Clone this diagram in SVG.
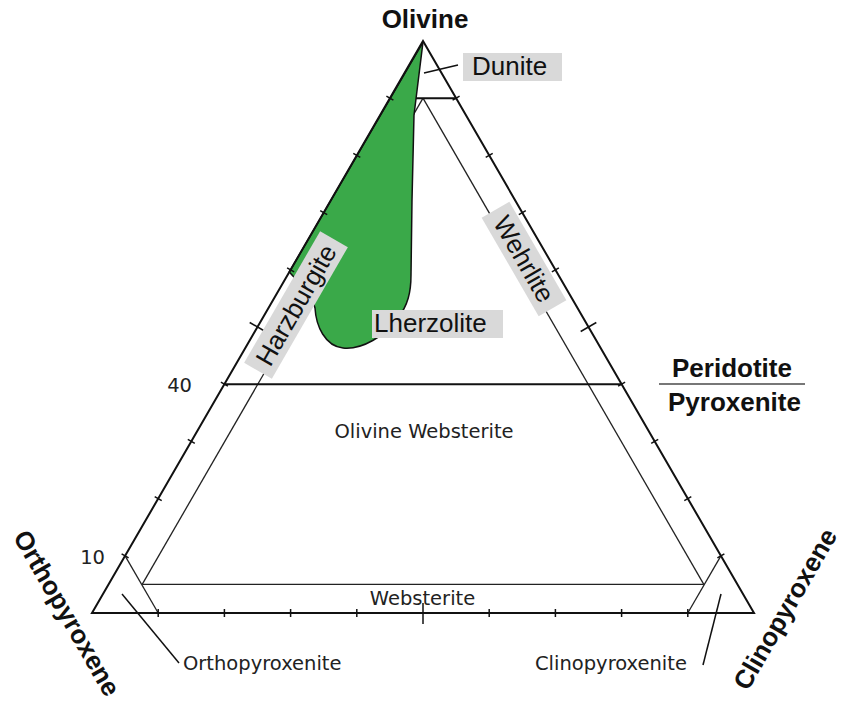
<svg xmlns="http://www.w3.org/2000/svg" width="842" height="702" viewBox="0 0 842 702">
<style>
.bold{font-family:"Liberation Sans",Arial,sans-serif;font-weight:bold;font-size:26px;fill:#111}
.lab{font-family:"Liberation Sans",Arial,sans-serif;font-size:26px;fill:#111}
.sm{font-family:"DejaVu Sans",sans-serif;font-size:19.5px;fill:#222}
.box{fill:#d9d9d9}
.edge{fill:none;stroke:#111;stroke-width:2}
.inner{fill:none;stroke:#222;stroke-width:1.3}
.tick{stroke:#111;stroke-width:1.5}
.lead{stroke:#111;stroke-width:1.5}
</style>
<rect width="842" height="702" fill="#fff"/>
<g id="connectors">
  <line class="inner" x1="142.2" y1="584.4" x2="423" y2="98.2"/>
  <line class="inner" x1="703.8" y1="584.4" x2="423" y2="98.2"/>
  <line class="inner" x1="142.2" y1="584.4" x2="703.8" y2="584.4" stroke="#444"/>
  <line class="inner" x1="125.1" y1="555.8" x2="158.2" y2="613"/>
  <line class="inner" x1="720.9" y1="555.8" x2="687.8" y2="613"/>
  <line class="edge" x1="224.4" y1="384.2" x2="621.6" y2="384.2" stroke="#333" stroke-width="1.8"/>
  <line class="edge" x1="389.9" y1="98.2" x2="456.1" y2="98.2"/>
</g>
<g id="lherzolite-field">
  <path d="M423,42 L289.3,272 C300,284 312,295 315,308 C316,326 325,346 343,348 C362,350 385,336 398,318 C408,305 411,292 411,275 L412,200 L414,115 Z" fill="#3aa949" stroke="#111" stroke-width="1.5" stroke-linejoin="round"/>
</g>
<g id="triangle">
  <polygon class="edge" points="423,41 92,613 754,613"/>
  <g id="ticks">
    <line class="tick" x1="121.6" y1="553.8" x2="128.6" y2="557.8"/>
    <line class="tick" x1="154.7" y1="496.6" x2="161.7" y2="500.6"/>
    <line class="tick" x1="187.8" y1="439.4" x2="194.8" y2="443.4"/>
    <line class="tick" x1="220.9" y1="382.2" x2="227.9" y2="386.2"/>
    <line class="tick" x1="249.7" y1="322.5" x2="265.3" y2="331.5"/>
    <line class="tick" x1="287.1" y1="267.8" x2="294.1" y2="271.8"/>
    <line class="tick" x1="320.2" y1="210.6" x2="327.2" y2="214.6"/>
    <line class="tick" x1="353.3" y1="153.4" x2="360.3" y2="157.4"/>
    <line class="tick" x1="386.4" y1="96.2" x2="393.4" y2="100.2"/>
    <line class="tick" x1="717.4" y1="557.8" x2="724.4" y2="553.8"/>
    <line class="tick" x1="684.3" y1="500.6" x2="691.3" y2="496.6"/>
    <line class="tick" x1="651.2" y1="443.4" x2="658.2" y2="439.4"/>
    <line class="tick" x1="618.1" y1="386.2" x2="625.1" y2="382.2"/>
    <line class="tick" x1="580.7" y1="331.5" x2="596.3" y2="322.5"/>
    <line class="tick" x1="551.9" y1="271.8" x2="558.9" y2="267.8"/>
    <line class="tick" x1="518.8" y1="214.6" x2="525.8" y2="210.6"/>
    <line class="tick" x1="485.7" y1="157.4" x2="492.7" y2="153.4"/>
    <line class="tick" x1="452.6" y1="100.2" x2="459.6" y2="96.2"/>
    <line class="tick" x1="158.2" y1="609" x2="158.2" y2="617"/>
    <line class="tick" x1="224.4" y1="609" x2="224.4" y2="617"/>
    <line class="tick" x1="290.6" y1="609" x2="290.6" y2="617"/>
    <line class="tick" x1="356.8" y1="609" x2="356.8" y2="617"/>
    <line class="tick" x1="423" y1="603" x2="423" y2="624" stroke-width="2"/>
    <line class="tick" x1="489.2" y1="609" x2="489.2" y2="617"/>
    <line class="tick" x1="555.4" y1="609" x2="555.4" y2="617"/>
    <line class="tick" x1="621.6" y1="609" x2="621.6" y2="617"/>
    <line class="tick" x1="687.8" y1="609" x2="687.8" y2="617"/>
  </g>
</g>
<g id="leaders">
  <line class="lead" x1="424" y1="73" x2="458" y2="65"/>
  <line class="lead" x1="122" y1="594" x2="179" y2="663"/>
  <line class="lead" x1="721" y1="594" x2="703" y2="665"/>
</g>
<g id="apex-labels">
  <text class="bold" x="425" y="28" text-anchor="middle">Olivine</text>
  <text class="bold" transform="translate(67,613) rotate(60)" y="9" text-anchor="middle">Orthopyroxene</text>
  <text class="bold" transform="translate(785,609) rotate(-60)" y="9" text-anchor="middle">Clinopyroxene</text>
</g>
<g id="dunite">
  <rect class="box" x="463" y="53" width="99" height="28"/>
  <text class="lab" x="472" y="75">Dunite</text>
</g>
<g id="harzburgite" transform="translate(296,305) rotate(-60)">
  <rect class="box" x="-76" y="-16" width="152" height="32"/>
  <text class="lab" x="0" y="9" text-anchor="middle">Harzburgite</text>
</g>
<g id="wehrlite" transform="translate(524,259) rotate(60)">
  <rect class="box" x="-57" y="-16" width="114" height="32"/>
  <text class="lab" x="0" y="9" text-anchor="middle">Wehrlite</text>
</g>
<g id="lherzolite">
  <rect class="box" x="372" y="310" width="131" height="28"/>
  <text class="lab" x="374" y="332">Lherzolite</text>
</g>
<g id="divider">
  <text class="bold" x="732" y="377" text-anchor="middle">Peridotite</text>
  <line x1="659" y1="384" x2="805" y2="384" stroke="#777" stroke-width="2"/>
  <text class="bold" x="734.5" y="411" text-anchor="middle">Pyroxenite</text>
</g>
<g id="field-labels">
  <text class="sm" x="424" y="438" text-anchor="middle">Olivine Websterite</text>
  <text class="sm" x="422.5" y="605" text-anchor="middle">Websterite</text>
  <text class="sm" x="183" y="670">Orthopyroxenite</text>
  <text class="sm" x="535" y="670">Clinopyroxenite</text>
  <text class="sm" x="192" y="392" text-anchor="end">40</text>
  <text class="sm" x="105" y="564" text-anchor="end">10</text>
</g>
</svg>
